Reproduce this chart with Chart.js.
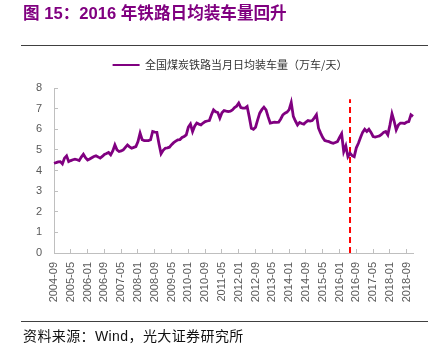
<!DOCTYPE html>
<html><head><meta charset="utf-8">
<script src="https://cdn.jsdelivr.net/npm/chart.js@4.4.1/dist/chart.umd.min.js"></script>
<style>
html,body{margin:0;padding:0;background:#fff;}
#wrap{position:relative;width:445px;height:355px;overflow:hidden;background:#fff;}
canvas{position:absolute;left:0;top:0;}
.t{position:absolute;white-space:nowrap;}
.rule{position:absolute;left:21px;width:407px;height:1px;background:#404040;}
</style></head><body>
<div id="wrap">
<canvas id="c" width="445" height="355"></canvas>
<div class="t" style="left:23px;top:0px;font:bold 16.6px 'Liberation Sans','Noto Sans CJK SC';color:#800080;">图 15：2016 年铁路日均装车量回升</div>
<div class="rule" style="top:45px;"></div>
<div class="rule" style="top:321px;"></div>
<div class="t" style="left:23px;top:325px;font:14px 'Liberation Sans','Noto Sans CJK SC';color:#111;letter-spacing:0.4px;">资料来源：Wind，光大证券研究所</div>
</div>
<script>
// categories: monthly, 2004-09 .. 2018-12
const startYear = 2004, startMonth = 9, monthCount = 172;
const months = [];
for (let i = 0; i < monthCount; i++) {
  const m0 = startMonth - 1 + i;
  const y = startYear + Math.floor(m0 / 12);
  const m = (m0 % 12) + 1;
  months.push(y + '-' + (m < 10 ? '0' + m : '' + m));
}
// tick labels shown on the x axis
const tickLabels = ['2004-09','2005-05','2006-01','2006-09','2007-05','2008-01','2008-09','2009-05','2010-01','2010-09','2011-05','2012-01','2012-09','2013-05','2014-01','2014-09','2015-05','2016-01','2016-09','2017-05','2018-01','2018-09'];
// 全国煤炭铁路当月日均装车量（万车/天）
const coalLoading = [
  4.35,4.38,4.42,4.43,4.32,4.60,4.71,4.43,4.48,4.52,4.55,4.52,
  4.48,4.65,4.79,4.62,4.51,4.56,4.62,4.68,4.71,4.66,4.60,4.68,
  4.78,4.82,4.87,4.76,4.95,5.24,5.00,4.92,4.95,5.00,5.12,5.24,
  5.15,5.08,5.12,5.16,5.40,5.81,5.49,5.45,5.45,5.45,5.49,5.89,
  5.86,5.85,5.30,4.81,4.98,5.08,5.10,5.13,5.25,5.35,5.42,5.49,
  5.50,5.60,5.65,5.73,6.10,6.25,5.89,6.15,6.30,6.25,6.21,6.30,
  6.37,6.40,6.42,6.70,6.94,6.85,6.81,6.54,6.80,6.91,6.88,6.86,
  6.88,6.94,7.05,7.12,7.27,7.05,7.02,7.02,7.10,6.60,6.05,6.00,
  6.10,6.45,6.78,6.95,7.07,6.94,6.60,6.30,6.32,6.34,6.33,6.34,
  6.50,6.70,6.78,6.83,6.95,7.30,6.62,6.40,6.21,6.33,6.28,6.25,
  6.35,6.42,6.40,6.42,6.55,6.70,6.05,5.81,5.60,5.45,5.42,5.40,
  5.35,5.32,5.36,5.40,5.60,5.78,4.92,5.19,4.67,4.84,4.72,4.67,
  5.10,5.32,5.60,5.85,6.00,5.89,6.00,5.85,5.65,5.62,5.65,5.68,
  5.75,5.85,5.89,5.73,6.20,6.75,6.40,5.97,6.20,6.30,6.30,6.28,
  6.35,6.37,6.70,6.62
];
// red dashed marker
const markerMonth = '2016-06';
const markerRange = [0, 7.45];
const yTicks = [0,1,2,3,4,5,6,7,8];

const axisGrey = '#BFBFBF';
const labelGrey = '#595959';

// fix the legend box height so the plot area starts where the reference's does
const legendHeightPlugin = {
  id: 'legendHeight',
  beforeLayout(chart) {
    const lg = chart.legend;
    if (lg && !lg._fixedH) {
      const orig = lg.fit.bind(lg);
      lg.fit = function() { orig(); this.height = 55; };
      lg._fixedH = true;
    }
  },
  afterLayout(chart) {
    const lg = chart.legend;
    if (lg) { lg.left -= 3.5; lg.right -= 3.5; }
  }
};

new Chart(document.getElementById('c'), {
  type: 'line',
  plugins: [legendHeightPlugin],
  data: {
    labels: months,
    datasets: [{
      label: '全国煤炭铁路当月日均装车量（万车/天）',
      data: coalLoading,
      borderColor: '#800080',
      backgroundColor: '#800080',
      borderWidth: 2.8,
      pointRadius: 0,
      tension: 0,
      fill: false
    }, {
      label: 'marker',
      data: markerRange.map(v => ({x: markerMonth, y: v})),
      borderColor: '#FF0000',
      borderWidth: 2,
      borderDash: [6, 4],
      pointRadius: 0,
      fill: false
    }]
  },
  options: {
    responsive: false,
    animation: false,
    layout: {padding: {left: 0, right: 32, top: 33, bottom: 42}},
    plugins: {
      legend: {
        display: true,
        position: 'top',
        fullSize: false,
        labels: {
          filter: item => item.datasetIndex === 0,
          generateLabels: chart => Chart.defaults.plugins.legend.labels.generateLabels(chart).map(l => Object.assign(l, {lineWidth: 2})),
          usePointStyle: true,
          pointStyle: 'line',
          pointStyleWidth: 27,
          color: '#333333',
          padding: 26.5,
          font: {family: "'Noto Sans CJK SC','Liberation Sans'", size: 11}
        }
      },
      tooltip: {enabled: false}
    },
    scales: {
      x: {
        type: 'category',
        offset: false,
        afterFit: s => { s.height = 60; },
        grid: {drawOnChartArea: false, drawTicks: true, tickLength: -4, color: axisGrey},
        border: {color: axisGrey, width: 1},
        ticks: {
          autoSkip: false,
          maxRotation: 90,
          minRotation: 90,
          padding: 13,
          color: labelGrey,
          font: {family: "'Liberation Sans'", size: 11},
          callback: function(value, index) {
            const lab = months[index];
            return tickLabels.includes(lab) ? lab : null;
          }
        }
      },
      y: {
        min: 0, max: 8,
        afterFit: s => { s.width = 54; },
        afterBuildTicks: s => { s.ticks = yTicks.map(v => ({value: v})); },
        grid: {drawOnChartArea: false, drawTicks: true, tickLength: -4, color: axisGrey},
        border: {color: axisGrey, width: 1},
        ticks: {
          padding: 16,
          color: labelGrey,
          font: {family: "'Liberation Sans'", size: 11}
        }
      }
    }
  }
});
</script>
</body></html>
